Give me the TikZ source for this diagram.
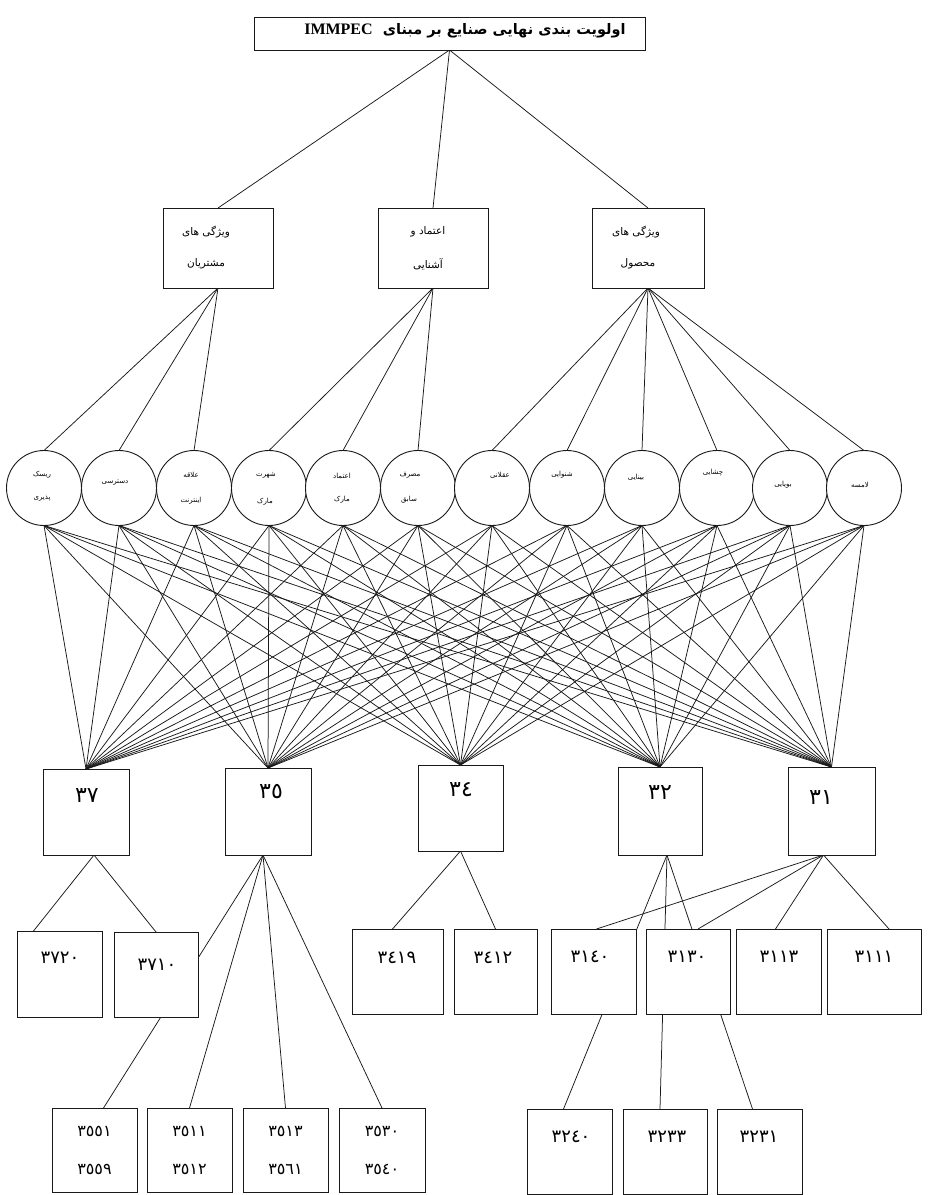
\documentclass[tikz,border=0pt]{standalone}
\usepackage{fontspec}
\newfontfamily\ar[Script=Arabic]{DejaVu Sans}
\newfontfamily\lser{Liberation Serif}
\TeXXeTstate=1
\usetikzlibrary{backgrounds}
\begin{document}
\begin{tikzpicture}[x=1pt,y=-1pt,
  every node/.style={inner sep=0pt, outer sep=0pt},
  box/.style={draw=black!90, line width=0.9pt, fill=white},
  circ/.style={draw=black!90, line width=0.9pt, circle, fill=white, minimum size=75pt},
  conn/.style={draw=black!90, line width=0.75pt},
  ctext/.style={font=\ar\fontsize{7}{8}\selectfont},
  mtext/.style={font=\ar\fontsize{10.5}{12}\selectfont},
  nthree/.style={font=\ar\fontsize{22}{22}\selectfont},
  nfour/.style={font=\ar\fontsize{18}{18}\selectfont},
  nfive/.style={font=\ar\fontsize{16}{38}\selectfont, align=center},
  nsix/.style={font=\ar\fontsize{18}{18}\selectfont},
]
\useasboundingbox (0,0) rectangle (929,1195);

% title
\node[box, minimum width=391, minimum height=33] (top) at (449.5,33.5) {};
\node[font=\ar\bfseries\fontsize{14.5}{16}\selectfont] (ttop) at (465,31)
  {\beginR اولویت بندی نهایی صنایع بر مبنای~~\beginL{\lser\bfseries\fontsize{16}{16}\selectfont IMMPEC}\endL\endR};

% level 2
\node[box, minimum width=110, minimum height=80] (m1) at (218,248) {};
\node[box, minimum width=110, minimum height=80] (m2) at (433,248) {};
\node[box, minimum width=112, minimum height=80] (m3) at (648,248) {};
\node[mtext] (m1a) at (206,232) {\beginR ویژگی های\endR};
\node[mtext] (m1b) at (206,264) {\beginR مشتریان\endR};
\node[mtext] (m2a) at (428,232) {\beginR اعتماد و\endR};
\node[mtext] (m2b) at (428,264) {\beginR آشنایی\endR};
\node[mtext] (m3a) at (636,232) {\beginR ویژگی های\endR};
\node[mtext] (m3b) at (638,264) {\beginR محصول\endR};

% circles
\foreach \x [count=\i] in {44,119,194,269,343,418,492,567,642,717,790,864}
  \node[circ] (c\i) at (\x,488) {};
\node[ctext] (k1a) at (42,475) {\beginR ریسک\endR};
\node[ctext] (k1b) at (42,498) {\beginR پذیری\endR};
\node[ctext] (k2) at (115,483) {\beginR دسترسی\endR};
\node[ctext] (k3a) at (191,475) {\beginR علاقه\endR};
\node[ctext] (k3b) at (191,501) {\beginR اینترنت\endR};
\node[ctext] (k4a) at (266,475) {\beginR شهرت\endR};
\node[ctext] (k4b) at (265,502) {\beginR مارک\endR};
\node[ctext] (k5a) at (342,476) {\beginR اعتماد\endR};
\node[ctext] (k5b) at (342,500) {\beginR مارک\endR};
\node[ctext] (k6a) at (410,475) {\beginR مصرف\endR};
\node[ctext] (k6b) at (409,500) {\beginR سابق\endR};
\node[ctext] (k7) at (500,475) {\beginR عقلانی\endR};
\node[ctext] (k8) at (562,475) {\beginR شنوایی\endR};
\node[ctext] (k9) at (636,477) {\beginR بینایی\endR};
\node[ctext] (k10) at (713,473) {\beginR چشایی\endR};
\node[ctext] (k11) at (783,485) {\beginR بویایی\endR};
\node[ctext] (k12) at (860,485) {\beginR لامسه\endR};

% level 3
\node[box, minimum width=86, minimum height=86] (b37) at (86,812) {};
\node[box, minimum width=86, minimum height=87] (b35) at (268,811.5) {};
\node[box, minimum width=85, minimum height=86] (b34) at (460.5,808) {};
\node[box, minimum width=84, minimum height=88] (b32) at (660,811) {};
\node[box, minimum width=87, minimum height=88] (b31) at (831.5,811) {};
\node[nthree] (t37) at (87,796) {٣٧};
\node[nthree] (t35) at (271,792) {٣٥};
\node[nthree] (t34) at (461,790) {٣٤};
\node[nthree] (t32) at (660,793) {٣٢};
\node[nthree] (t31) at (821,798) {٣١};

% level 4
\node[box, minimum width=85, minimum height=86] (b3720) at (59.5,974) {};
\node[box, minimum width=84, minimum height=85] (b3710) at (156,974.5) {};
\node[box, minimum width=91, minimum height=85] (b3419) at (397.5,971.5) {};
\node[box, minimum width=83, minimum height=85] (b3412) at (495.5,971.5) {};
\node[box, minimum width=85, minimum height=85] (b3140) at (593.5,971.5) {};
\node[box, minimum width=84, minimum height=85] (b3130) at (688,971.5) {};
\node[box, minimum width=85, minimum height=85] (b3113) at (778.5,971.5) {};
\node[box, minimum width=94, minimum height=85] (b3111) at (874,971.5) {};
\node[nfour] (t3720) at (60,958) {٣٧٢٠};
\node[nfour] (t3710) at (157,965) {٣٧١٠};
\node[nfour] (t3419) at (397,958) {٣٤١٩};
\node[nfour] (t3412) at (493,958) {٣٤١٢};
\node[nfour] (t3140) at (590,957) {٣١٤٠};
\node[nfour] (t3130) at (687,957) {٣١٣٠};
\node[nfour] (t3113) at (779,957) {٣١١٣};
\node[nfour] (t3111) at (874,957) {٣١١١};

% level 5
\node[box, nfive, minimum width=85, minimum height=84] (b3551) at (94.5,1150) {٣٥٥١\\٣٥٥٩};
\node[box, nfive, minimum width=85, minimum height=84] (b3511) at (189.5,1150) {٣٥١١\\٣٥١٢};
\node[box, nfive, minimum width=85, minimum height=84] (b3513) at (285.5,1150) {٣٥١٣\\٣٥٦١};
\node[box, nfive, minimum width=86, minimum height=84] (b3530) at (382,1150) {٣٥٣٠\\٣٥٤٠};
\node[box, minimum width=85, minimum height=85] (b3240) at (569.5,1151.5) {};
\node[box, minimum width=84, minimum height=85] (b3233) at (665,1151.5) {};
\node[box, minimum width=85, minimum height=85] (b3231) at (759.5,1151.5) {};
\node[nsix] (t3240) at (571,1137) {٣٢٤٠};
\node[nsix] (t3233) at (667,1137) {٣٢٣٣};
\node[nsix] (t3231) at (759,1137) {٣٢٣١};

\begin{scope}[on background layer]
  \foreach \m in {m1,m2,m3} \draw[conn] (top.south) -- (\m.north);
  \foreach \i in {1,2,3} \draw[conn] (m1.south) -- (c\i.north);
  \foreach \i in {4,5,6} \draw[conn] (m2.south) -- (c\i.north);
  \foreach \i in {7,...,12} \draw[conn] (m3.south) -- (c\i.north);
  \foreach \i in {1,...,12} {
    \foreach \b in {b37,b35,b34,b32,b31} {
      \draw[conn] (c\i.south) -- (\b.north);
    }
  }
  \draw[conn] ([xshift=8]b37.south) -- ([xshift=-26]b3720.north);
  \draw[conn] ([xshift=8]b37.south) -- (b3710.north);
  \draw[conn] ([xshift=-5]b35.south) -- ([xshift=9]b3551.north);
  \draw[conn] ([xshift=-5]b35.south) -- (b3511.north);
  \draw[conn] ([xshift=-5]b35.south) -- (b3513.north);
  \draw[conn] ([xshift=-5]b35.south) -- (b3530.north);
  \draw[conn] (b34.south) -- ([xshift=-5]b3419.north);
  \draw[conn] (b34.south) -- (b3412.north);
  \draw[conn] ([xshift=7]b32.south) -- ([xshift=-6]b3240.north);
  \draw[conn] ([xshift=7]b32.south) -- ([xshift=-5]b3233.north);
  \draw[conn] ([xshift=7]b32.south) -- ([xshift=-7]b3231.north);
  \draw[conn] ([xshift=-8]b31.south) -- ([xshift=3]b3140.north);
  \draw[conn] ([xshift=-8]b31.south) -- ([xshift=10]b3130.north);
  \draw[conn] ([xshift=-8]b31.south) -- ([xshift=-3]b3113.north);
  \draw[conn] ([xshift=-8]b31.south) -- ([xshift=15]b3111.north);
\end{scope}
\end{tikzpicture}
\end{document}
